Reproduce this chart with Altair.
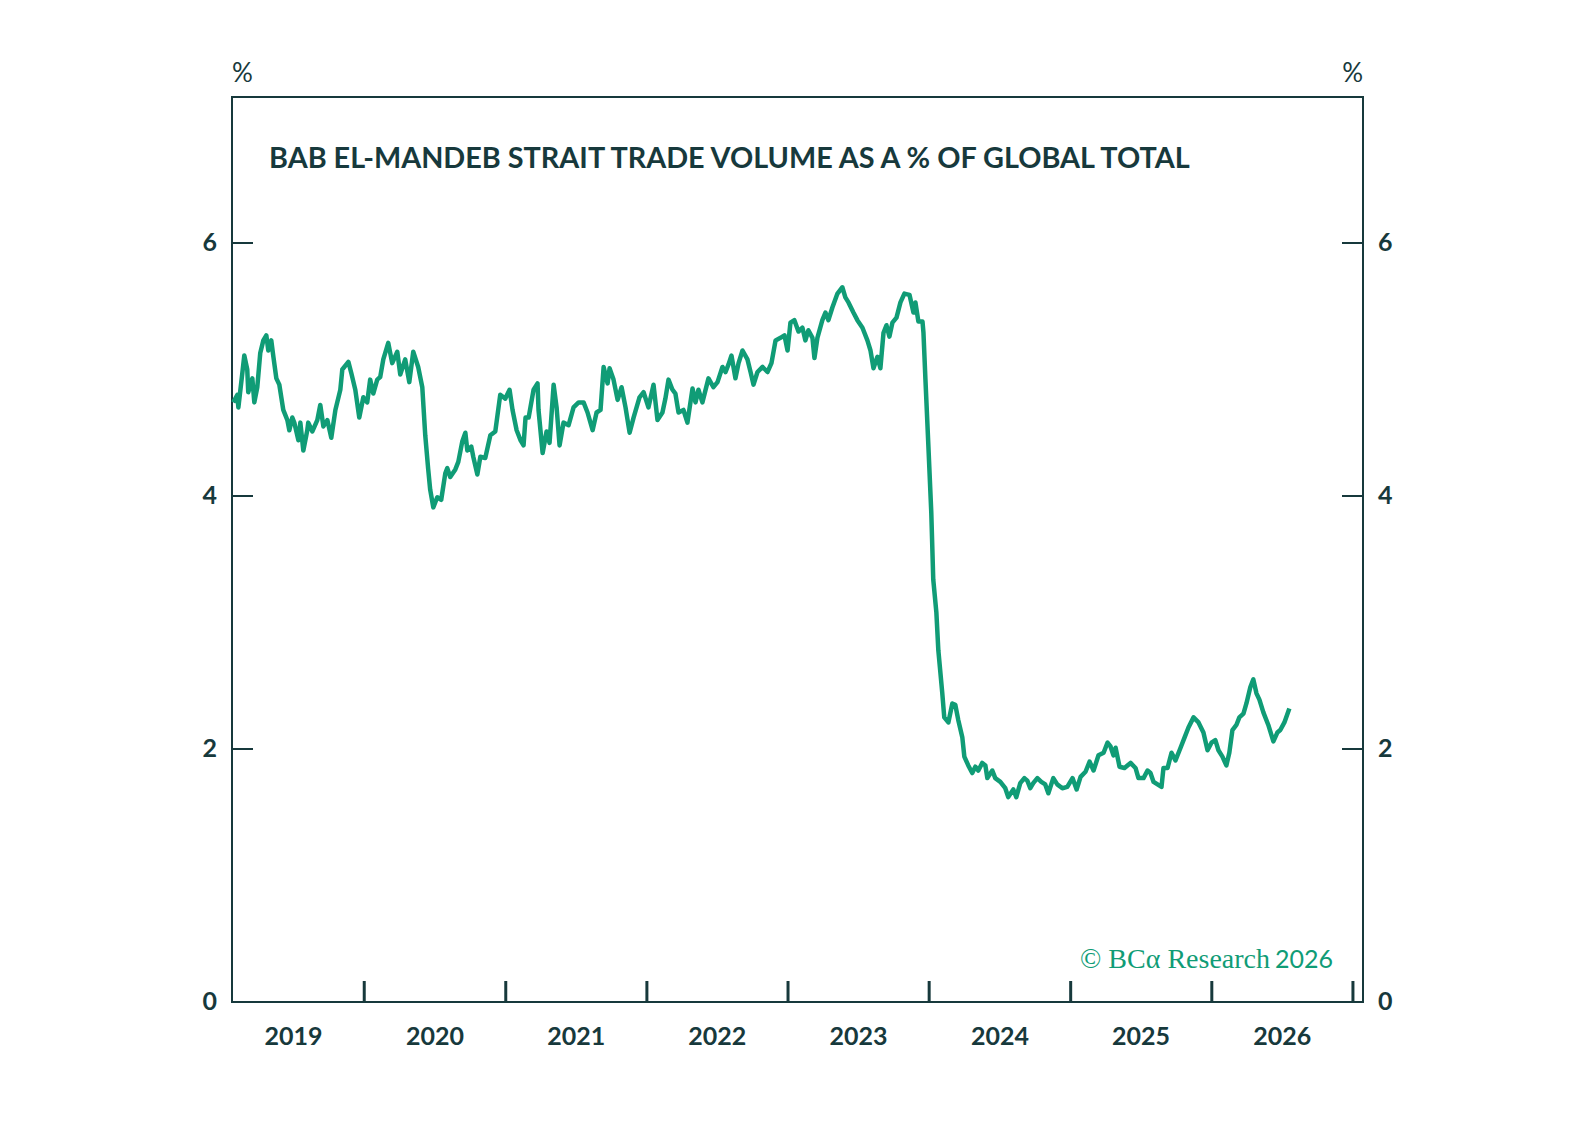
import altair as alt
import pandas as pd

# ---- data (time in decimal years, value in %) ----
t_year = [
    2019.072, 2019.101, 2019.108, 2019.136, 2019.150, 2019.171, 2019.178, 2019.207, 2019.221, 2019.242,
    2019.263, 2019.285, 2019.306, 2019.320, 2019.341, 2019.356, 2019.377, 2019.398, 2019.426, 2019.455,
    2019.469, 2019.490, 2019.504, 2019.533, 2019.547, 2019.568, 2019.596, 2019.603, 2019.632, 2019.667,
    2019.688, 2019.710, 2019.738, 2019.766, 2019.795, 2019.830, 2019.844, 2019.887, 2019.908, 2019.936,
    2019.964, 2019.993, 2020.021, 2020.042, 2020.064, 2020.092, 2020.113, 2020.135, 2020.170, 2020.198,
    2020.234, 2020.255, 2020.290, 2020.319, 2020.347, 2020.382, 2020.411, 2020.432, 2020.453, 2020.467,
    2020.489, 2020.517, 2020.545, 2020.574, 2020.588, 2020.609, 2020.645, 2020.666, 2020.694, 2020.716,
    2020.730, 2020.758, 2020.772, 2020.801, 2020.822, 2020.857, 2020.893, 2020.928, 2020.963, 2020.999,
    2021.027, 2021.048, 2021.077, 2021.105, 2021.126, 2021.140, 2021.162, 2021.197, 2021.225, 2021.232,
    2021.261, 2021.289, 2021.310, 2021.339, 2021.360, 2021.381, 2021.409, 2021.445, 2021.480, 2021.516,
    2021.551, 2021.579, 2021.615, 2021.643, 2021.671, 2021.693, 2021.721, 2021.735, 2021.763, 2021.792,
    2021.820, 2021.848, 2021.877, 2021.905, 2021.947, 2021.976, 2022.011, 2022.047, 2022.075, 2022.110,
    2022.131, 2022.153, 2022.181, 2022.202, 2022.224, 2022.259, 2022.287, 2022.323, 2022.344, 2022.365,
    2022.393, 2022.436, 2022.471, 2022.500, 2022.535, 2022.557, 2022.578, 2022.599, 2022.627, 2022.649,
    2022.677, 2022.712, 2022.734, 2022.755, 2022.783, 2022.819, 2022.854, 2022.882, 2022.911, 2022.946,
    2022.974, 2022.996, 2023.017, 2023.045, 2023.074, 2023.102, 2023.123, 2023.144, 2023.173, 2023.187,
    2023.208, 2023.243, 2023.265, 2023.286, 2023.314, 2023.350, 2023.385, 2023.406, 2023.428, 2023.463,
    2023.491, 2023.527, 2023.562, 2023.584, 2023.605, 2023.633, 2023.654, 2023.676, 2023.697, 2023.718,
    2023.739, 2023.768, 2023.796, 2023.824, 2023.860, 2023.888, 2023.902, 2023.923, 2023.952, 2023.959,
    2023.973, 2023.994, 2024.015, 2024.029, 2024.051, 2024.065, 2024.093, 2024.107, 2024.136, 2024.164,
    2024.185, 2024.206, 2024.235, 2024.249, 2024.277, 2024.305, 2024.327, 2024.348, 2024.376, 2024.398,
    2024.412, 2024.447, 2024.468, 2024.504, 2024.539, 2024.560, 2024.596, 2024.617, 2024.645, 2024.674,
    2024.695, 2024.716, 2024.737, 2024.766, 2024.794, 2024.822, 2024.844, 2024.879, 2024.907, 2024.943,
    2024.978, 2025.013, 2025.042, 2025.070, 2025.105, 2025.134, 2025.162, 2025.197, 2025.233, 2025.261,
    2025.282, 2025.303, 2025.318, 2025.346, 2025.381, 2025.424, 2025.459, 2025.480, 2025.516, 2025.544,
    2025.565, 2025.587, 2025.615, 2025.643, 2025.657, 2025.686, 2025.714, 2025.742, 2025.771, 2025.806,
    2025.834, 2025.870, 2025.905, 2025.940, 2025.969, 2025.997, 2026.025, 2026.047, 2026.075, 2026.103,
    2026.124, 2026.146, 2026.174, 2026.195, 2026.224, 2026.245, 2026.273, 2026.294, 2026.316, 2026.337,
    2026.365, 2026.400, 2026.436, 2026.464, 2026.485, 2026.514, 2026.549,
]
share_pct = [
    4.74, 4.80, 4.70, 4.97, 5.11, 5.00, 4.82, 4.93, 4.74, 4.86,
    5.13, 5.23, 5.27, 5.15, 5.23, 5.10, 4.93, 4.88, 4.68, 4.60,
    4.52, 4.62, 4.58, 4.44, 4.58, 4.36, 4.52, 4.58, 4.51, 4.60,
    4.72, 4.55, 4.60, 4.46, 4.68, 4.84, 5.00, 5.06, 4.97, 4.84,
    4.62, 4.78, 4.74, 4.92, 4.81, 4.92, 4.94, 5.08, 5.21, 5.05,
    5.14, 4.96, 5.08, 4.90, 5.14, 5.02, 4.86, 4.48, 4.21, 4.05,
    3.91, 3.99, 3.97, 4.18, 4.22, 4.15, 4.21, 4.27, 4.43, 4.50,
    4.36, 4.39, 4.31, 4.17, 4.31, 4.30, 4.48, 4.51, 4.80, 4.77,
    4.84, 4.68, 4.52, 4.44, 4.40, 4.62, 4.62, 4.84, 4.89, 4.68,
    4.34, 4.51, 4.42, 4.88, 4.70, 4.40, 4.58, 4.56, 4.70, 4.74,
    4.74, 4.66, 4.52, 4.66, 4.68, 5.02, 4.89, 5.01, 4.92, 4.76,
    4.86, 4.70, 4.50, 4.62, 4.78, 4.82, 4.70, 4.88, 4.60, 4.66,
    4.77, 4.92, 4.84, 4.81, 4.66, 4.68, 4.58, 4.85, 4.74, 4.84,
    4.74, 4.93, 4.86, 4.90, 5.02, 4.98, 5.04, 5.11, 4.93, 5.05,
    5.15, 5.08, 4.98, 4.88, 4.98, 5.02, 4.98, 5.05, 5.23, 5.25,
    5.27, 5.15, 5.37, 5.39, 5.30, 5.33, 5.23, 5.31, 5.25, 5.09,
    5.25, 5.39, 5.45, 5.39, 5.49, 5.60, 5.65, 5.57, 5.53, 5.45,
    5.39, 5.33, 5.23, 5.15, 5.01, 5.10, 5.01, 5.29, 5.35, 5.26,
    5.37, 5.41, 5.53, 5.60, 5.59, 5.45, 5.53, 5.38, 5.38, 5.29,
    4.92, 4.39, 3.87, 3.34, 3.08, 2.78, 2.44, 2.25, 2.21, 2.36,
    2.35, 2.23, 2.09, 1.94, 1.87, 1.81, 1.86, 1.83, 1.89, 1.87,
    1.77, 1.83, 1.77, 1.74, 1.69, 1.62, 1.68, 1.62, 1.73, 1.77,
    1.75, 1.69, 1.73, 1.77, 1.74, 1.72, 1.65, 1.77, 1.72, 1.69,
    1.70, 1.77, 1.68, 1.78, 1.82, 1.90, 1.83, 1.95, 1.97, 2.05,
    2.02, 1.95, 2.01, 1.86, 1.85, 1.89, 1.85, 1.77, 1.77, 1.83,
    1.81, 1.74, 1.72, 1.70, 1.85, 1.85, 1.97, 1.91, 1.99, 2.09,
    2.17, 2.25, 2.21, 2.13, 1.99, 2.05, 2.07, 1.99, 1.94, 1.87,
    1.97, 2.15, 2.19, 2.25, 2.28, 2.36, 2.49, 2.55, 2.44, 2.39,
    2.29, 2.19, 2.06, 2.13, 2.15, 2.21, 2.32,
]

year_labels = ["2019", "2020", "2021", "2022", "2023", "2024", "2025", "2026"]
year_ticks = [2020, 2021, 2022, 2023, 2024, 2025, 2026, 2027]
y_ticks = [0, 2, 4, 6]
title_text = "BAB EL-MANDEB STRAIT TRADE VOLUME AS A % OF GLOBAL TOTAL"

# ---- helpers ----
def to_date(t):
    y = int(t)
    d = pd.Timestamp(y, 1, 1) + pd.Timedelta(days=(t - y) * 365.25)
    return d.strftime("%Y-%m-%dT%H:%M:%S")

df = pd.DataFrame({"date": [to_date(t) for t in t_year], "value": share_pct})
labels_df = pd.DataFrame({"date": [f"{y}-07-02T00:00:00" for y in year_labels], "label": year_labels})
ticks_df = pd.DataFrame({"date": [f"{y}-01-01T00:00:00" for y in year_ticks]})
yt_df = pd.DataFrame({"v": y_ticks, "label": [str(v) for v in y_ticks]})

W, H = 1131, 905
DARK = "#17393c"
GREEN = "#109c76"
FONT = "Lato"

xscale = alt.Scale(domain=[alt.DateTime(year=2019, month=1, date=24),
                           alt.DateTime(year=2027, month=1, date=27)])
yscale = alt.Scale(domain=[0, 7.154], nice=False, zero=False)

line = alt.Chart(df).mark_line(color=GREEN, strokeWidth=4.5, strokeJoin="round").encode(
    x=alt.X("date:T", scale=xscale, axis=None),
    y=alt.Y("value:Q", scale=yscale, axis=None),
)

xticks = alt.Chart(ticks_df).mark_rule(color=DARK, strokeWidth=3).encode(
    x=alt.X("date:T", scale=xscale, axis=None),
    y=alt.value(H - 21), y2=alt.value(H),
)

xlabels = alt.Chart(labels_df).mark_text(
    font=FONT, fontSize=25, fontWeight="bold", color=DARK, baseline="alphabetic", align="center"
).encode(
    x=alt.X("date:T", scale=xscale, axis=None),
    y=alt.value(H + 43),
    text="label:N",
)

ytick_l = alt.Chart(yt_df).mark_rule(color=DARK, strokeWidth=2).encode(
    y=alt.Y("v:Q", scale=yscale, axis=None), x=alt.value(0), x2=alt.value(21)
)
ytick_r = alt.Chart(yt_df).mark_rule(color=DARK, strokeWidth=2).encode(
    y=alt.Y("v:Q", scale=yscale, axis=None), x=alt.value(W - 21), x2=alt.value(W)
)
ylab_l = alt.Chart(yt_df).mark_text(
    font=FONT, fontSize=25, fontWeight="bold", color=DARK, align="right", baseline="middle"
).encode(y=alt.Y("v:Q", scale=yscale, axis=None), x=alt.value(-15), text="label:N")
ylab_r = alt.Chart(yt_df).mark_text(
    font=FONT, fontSize=25, fontWeight="bold", color=DARK, align="left", baseline="middle"
).encode(y=alt.Y("v:Q", scale=yscale, axis=None), x=alt.value(W + 15), text="label:N")

pct_l = alt.Chart(pd.DataFrame({"t": ["%"]})).mark_text(
    font=FONT, fontSize=26, color=DARK, align="left", baseline="alphabetic"
).encode(x=alt.value(0), y=alt.value(-15), text="t:N")
pct_r = alt.Chart(pd.DataFrame({"t": ["%"]})).mark_text(
    font=FONT, fontSize=26, color=DARK, align="right", baseline="alphabetic"
).encode(x=alt.value(W), y=alt.value(-15), text="t:N")

title = alt.Chart(pd.DataFrame({"t": [title_text]})).mark_text(
    font=FONT, fontSize=28.8, fontWeight="bold", color=DARK, align="left", baseline="alphabetic"
).encode(x=alt.value(37), y=alt.value(71), text="t:N")

wm1 = alt.Chart(pd.DataFrame({"t": ["© BCα Research"]})).mark_text(
    font="Liberation Serif", fontSize=28, color=GREEN, align="right", baseline="alphabetic"
).encode(x=alt.value(W - 93), y=alt.value(871), text="t:N")
wm2 = alt.Chart(pd.DataFrame({"t": ["2026"]})).mark_text(
    font=FONT, fontSize=25, color=GREEN, align="right", baseline="alphabetic"
).encode(x=alt.value(W - 30), y=alt.value(871), text="t:N")

chart = alt.layer(
    line, xticks, xlabels, ytick_l, ytick_r, ylab_l, ylab_r, pct_l, pct_r, title, wm1, wm2
).properties(
    width=W, height=H,
    autosize=alt.AutoSizeParams(type="none"),
    padding={"left": 224, "top": 89, "right": 220, "bottom": 130},
).configure_view(stroke=DARK, strokeWidth=2)

chart.save("out.html", embed_options={"renderer": "svg", "actions": False})
